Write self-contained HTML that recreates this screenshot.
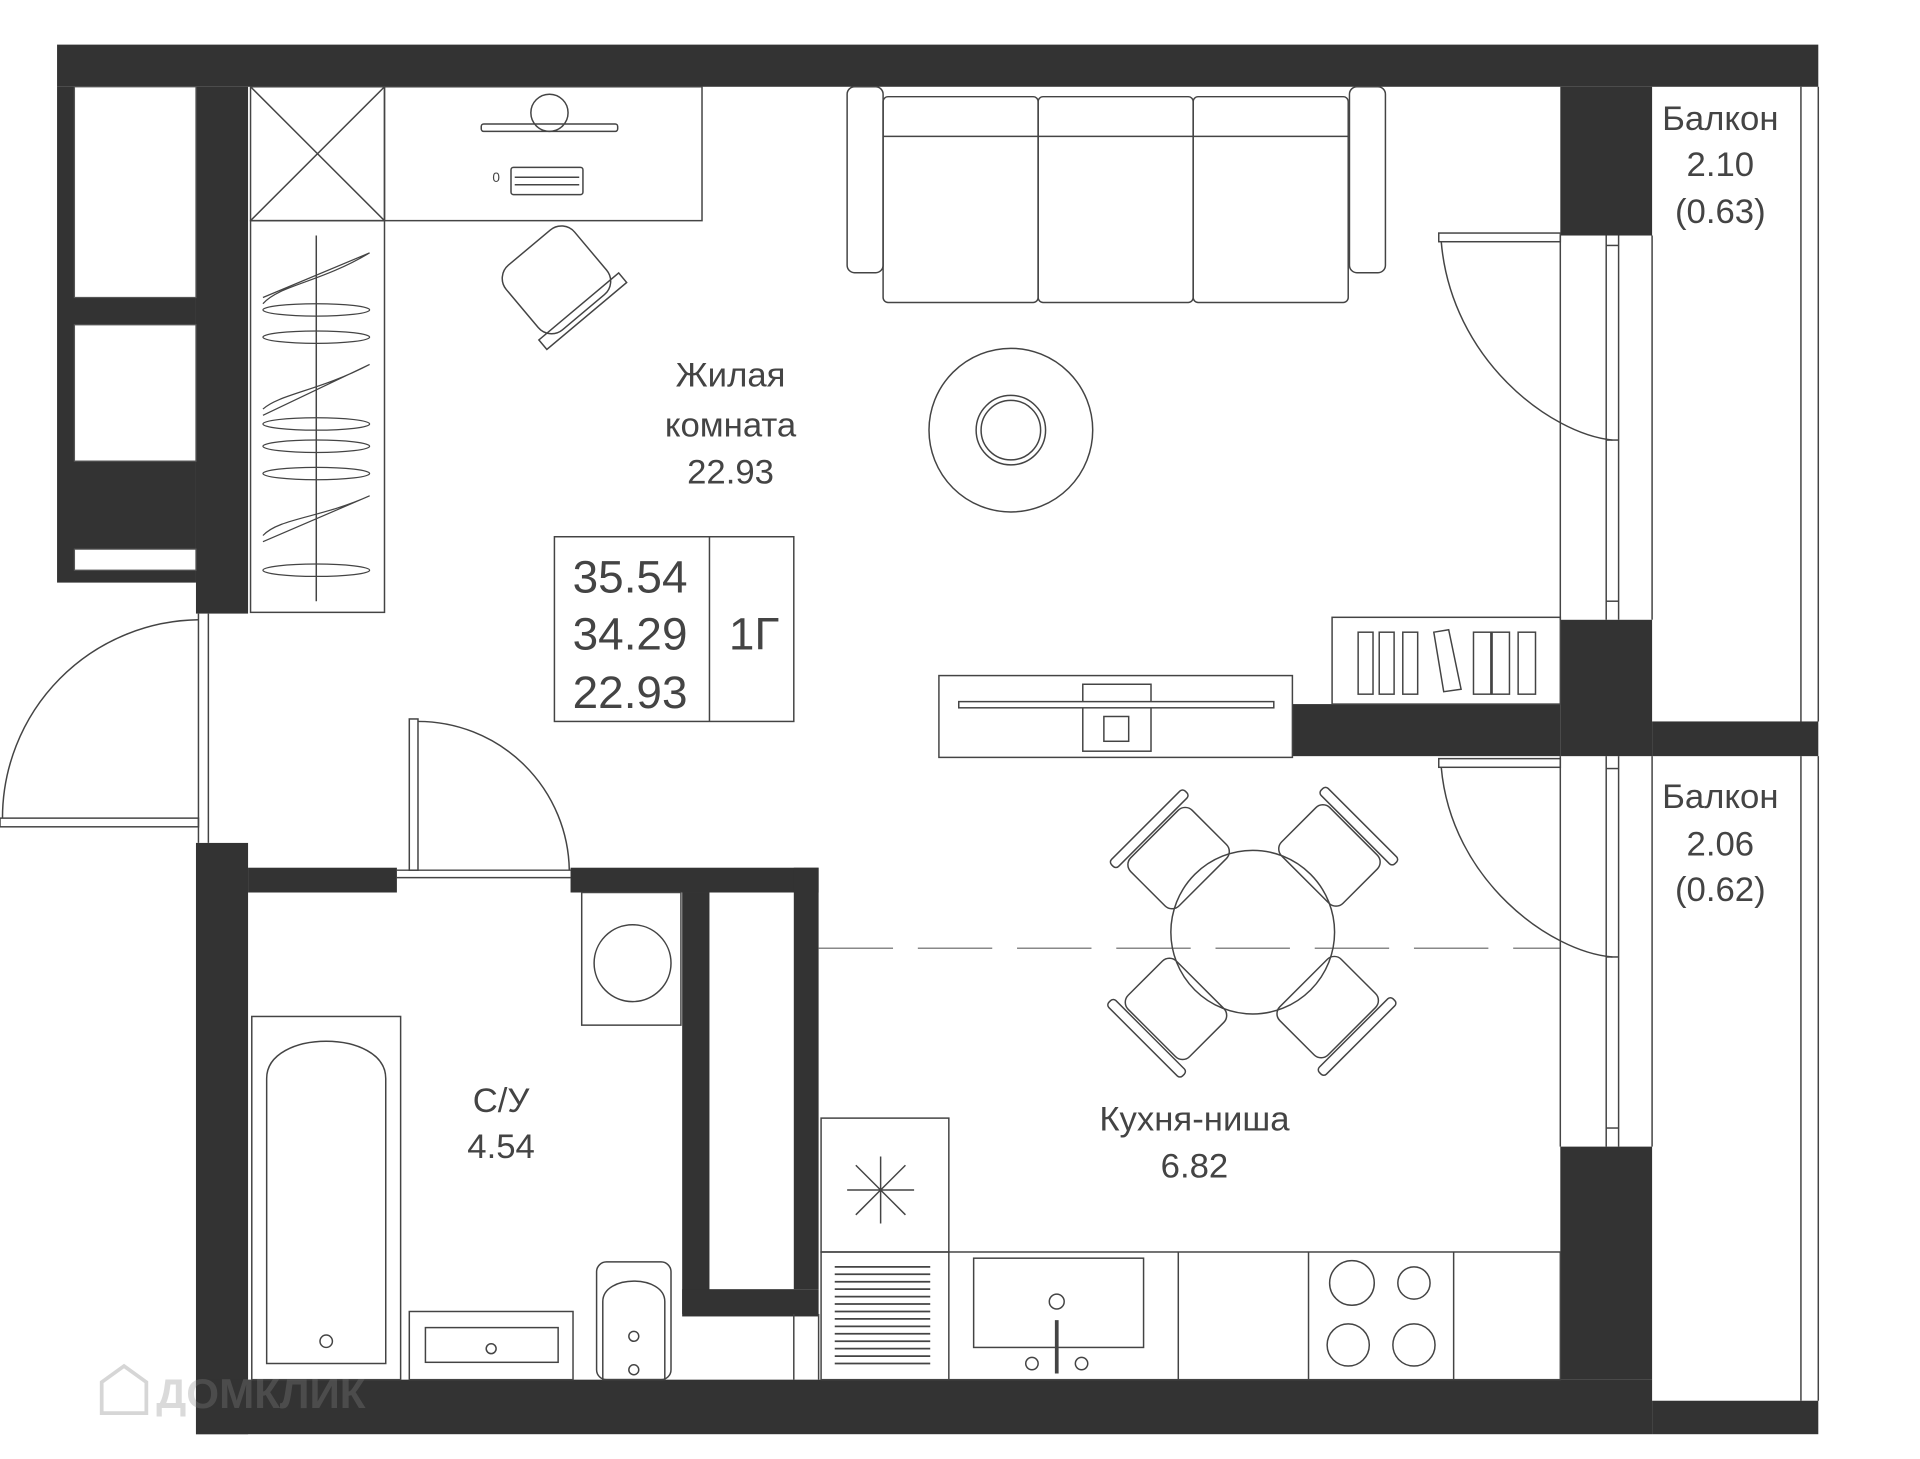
<!DOCTYPE html>
<html><head><meta charset="utf-8"><style>
html,body{margin:0;padding:0;background:#fff;}
svg{display:block}
text{font-family:"Liberation Sans",sans-serif;fill:#444}
</style></head><body>
<svg width="1920" height="1459" viewBox="0 0 1548 1177" preserveAspectRatio="none" xmlns="http://www.w3.org/2000/svg">
<g fill="#333">
<rect x="46" y="36" width="1420" height="34"/>
<rect x="46" y="70" width="112" height="400"/>
<rect x="158" y="70" width="42" height="425"/>
<rect x="158" y="680" width="42" height="477"/>
<rect x="158" y="1113" width="1174" height="44"/>
<rect x="1332" y="1130" width="134" height="27"/>
<rect x="200" y="700" width="120" height="20"/>
<rect x="460" y="700" width="200" height="20"/>
<rect x="640" y="700" width="20" height="340"/>
<rect x="550" y="720" width="22" height="340"/>
<rect x="550" y="1040" width="110" height="22"/>
<rect x="1258" y="70" width="74" height="120"/>
<rect x="1258" y="500" width="74" height="110"/>
<rect x="1042" y="568" width="216" height="42"/>
<rect x="1332" y="582" width="134" height="28"/>
<rect x="1258" y="925" width="74" height="188"/>
</g>
<g fill="#fff" stroke="#555" stroke-width="1">
<rect x="60" y="70" width="98" height="170"/>
<rect x="60" y="262" width="98" height="110"/>
<rect x="60" y="443" width="98" height="17"/>
</g>
<g fill="none" stroke="#444" stroke-width="1.2">
<line x1="160" y1="495" x2="160" y2="680"/><line x1="168" y1="495" x2="168" y2="680"/>
<rect x="0" y="660" width="160" height="7"/>
<path d="M160,500 A160,160 0 0 0 2,660"/>
<line x1="320" y1="702" x2="460" y2="702"/><line x1="320" y1="708" x2="460" y2="708"/>
<rect x="330" y="580" width="7" height="122"/>
<path d="M337,582 A122,122 0 0 1 459,702"/>
<line x1="640" y1="1060" x2="640" y2="1113"/><line x1="660" y1="1060" x2="660" y2="1113"/>
<line x1="660" y1="765" x2="1258" y2="765" stroke-dasharray="60,20" stroke="#888"/>
<line x1="1258" y1="190" x2="1258" y2="500"/><line x1="1295" y1="190" x2="1295" y2="500"/><line x1="1305" y1="190" x2="1305" y2="500"/><line x1="1332" y1="190" x2="1332" y2="500"/>
<line x1="1295" y1="355" x2="1305" y2="355"/><line x1="1295" y1="485" x2="1305" y2="485"/><line x1="1295" y1="198" x2="1305" y2="198"/>
<line x1="1258" y1="610" x2="1258" y2="925"/><line x1="1295" y1="610" x2="1295" y2="925"/><line x1="1305" y1="610" x2="1305" y2="925"/><line x1="1332" y1="610" x2="1332" y2="925"/>
<line x1="1295" y1="772" x2="1305" y2="772"/><line x1="1295" y1="910" x2="1305" y2="910"/><line x1="1295" y1="620" x2="1305" y2="620"/>
<rect x="1160" y="188" width="98" height="7"/>
<path d="M1162,195 C1170,290 1250,350 1300,355"/>
<rect x="1160" y="612" width="98" height="7"/>
<path d="M1162,619 C1170,710 1250,768 1300,772"/>
<line x1="1452" y1="70" x2="1452" y2="582"/><line x1="1466" y1="70" x2="1466" y2="582"/>
<line x1="1452" y1="610" x2="1452" y2="1130"/><line x1="1466" y1="610" x2="1466" y2="1130"/>
<rect x="202" y="70" width="108" height="108"/>
<line x1="202" y1="70" x2="310" y2="178"/><line x1="310" y1="70" x2="202" y2="178"/>
<rect x="310" y="70" width="256" height="108"/>
<rect x="202" y="178" width="108" height="316"/>
<line x1="255" y1="190" x2="255" y2="485"/>
<g stroke-width="1">
<path d="M212,240 L298,204 M212,245 C225,230 258,228 298,204"/>
<ellipse cx="255" cy="250" rx="43" ry="5"/><ellipse cx="255" cy="272" rx="43" ry="5"/>
<path d="M212,330 C225,318 258,315 298,294 M212,335 L298,294"/>
<ellipse cx="255" cy="342" rx="43" ry="5"/><ellipse cx="255" cy="360" rx="43" ry="5"/><ellipse cx="255" cy="382" rx="43" ry="5"/>
<path d="M212,432 C225,418 258,418 298,400 M212,437 L298,400"/>
<ellipse cx="255" cy="460" rx="43" ry="5"/>
</g>
<circle cx="443" cy="91" r="15"/>
<rect x="388" y="100" width="110" height="6" rx="2"/>
<rect x="412" y="135" width="58" height="22" rx="2"/>
<line x1="415" y1="143" x2="467" y2="143"/><line x1="415" y1="149" x2="467" y2="149"/>
<g transform="rotate(-40 448 225)">
<rect x="412" y="192" width="72" height="68" rx="14"/>
<rect x="406" y="254" width="84" height="10"/>
</g>
<rect x="683" y="70" width="29" height="150" rx="6"/>
<rect x="1088" y="70" width="29" height="150" rx="6"/>
<rect x="712" y="78" width="125" height="166" rx="4"/>
<rect x="837" y="78" width="125" height="166" rx="4"/>
<rect x="962" y="78" width="125" height="166" rx="4"/>
<line x1="712" y1="110" x2="1087" y2="110"/>
<circle cx="815" cy="347" r="66"/><circle cx="815" cy="347" r="28"/><circle cx="815" cy="347" r="24"/>
<rect x="447" y="433" width="193" height="149"/><line x1="572" y1="433" x2="572" y2="582"/>
<rect x="757" y="545" width="285" height="66"/>
<rect x="873" y="552" width="55" height="54"/>
<rect x="773" y="566" width="254" height="5" fill="#fff"/>
<rect x="890" y="578" width="20" height="20"/>
<rect x="1074" y="498" width="184" height="70"/>
<rect x="1095" y="510" width="12" height="50"/><rect x="1112" y="510" width="12" height="50"/><rect x="1131" y="510" width="12" height="50"/>
<path d="M1156,510 L1168,508 L1178,556 L1164,558 Z"/>
<rect x="1188" y="510" width="14" height="50"/><rect x="1203" y="510" width="14" height="50"/><rect x="1224" y="510" width="14" height="50"/>
<circle cx="1010" cy="752" r="66"/>
<g transform="rotate(-45 1010 752)">
<rect x="975" y="640" width="70" height="55" rx="8"/><rect x="968" y="630" width="84" height="8" rx="3"/>
<rect x="975" y="810" width="70" height="55" rx="8"/><rect x="968" y="867" width="84" height="8" rx="3"/>
<rect x="895" y="717" width="55" height="70" rx="8"/><rect x="885" y="710" width="8" height="84" rx="3"/>
<rect x="1070" y="717" width="55" height="70" rx="8"/><rect x="1127" y="710" width="8" height="84" rx="3"/>
</g>
<rect x="662" y="902" width="103" height="108"/>
<path d="M690,940 L730,980 M730,940 L690,980 M710,933 L710,987 M683,960 L737,960"/>
<rect x="662" y="1010" width="596" height="103"/>
<line x1="765" y1="1010" x2="765" y2="1113"/><line x1="950" y1="1010" x2="950" y2="1113"/><line x1="1055" y1="1010" x2="1055" y2="1113"/><line x1="1172" y1="1010" x2="1172" y2="1113"/>
<g stroke-width="1.4"><path d="M673,1022 H750 M673,1028 H750 M673,1034 H750 M673,1040 H750 M673,1046 H750 M673,1052 H750 M673,1058 H750 M673,1064 H750 M673,1070 H750 M673,1076 H750 M673,1082 H750 M673,1088 H750 M673,1094 H750 M673,1100 H750"/></g>
<rect x="785" y="1015" width="137" height="72"/>
<circle cx="852" cy="1050" r="6"/><line x1="852" y1="1065" x2="852" y2="1108" stroke-width="3"/>
<circle cx="832" cy="1100" r="5"/><circle cx="872" cy="1100" r="5"/>
<circle cx="1090" cy="1035" r="18"/><circle cx="1140" cy="1035" r="13"/><circle cx="1087" cy="1085" r="17"/><circle cx="1140" cy="1085" r="17"/>
<rect x="469" y="720" width="80" height="107"/><circle cx="510" cy="777" r="31"/>
<rect x="203" y="820" width="120" height="293"/>
<path d="M215,1100 L215,870 C215,830 311,830 311,870 L311,1100 Z"/>
<circle cx="263" cy="1082" r="5"/>
<rect x="330" y="1058" width="132" height="55"/><rect x="343" y="1071" width="107" height="28"/>
<circle cx="396" cy="1088" r="4"/>
<rect x="481" y="1018" width="60" height="95" rx="8"/>
<path d="M486,1050 C486,1028 536,1028 536,1050 L536,1113 L486,1113 Z"/>
<circle cx="511" cy="1078" r="4"/><circle cx="511" cy="1105" r="4"/>
</g>
<text x="400" y="147" font-size="11" text-anchor="middle">0</text>
<g font-size="28" text-anchor="middle">
<text x="589" y="312">Жилая</text>
<text x="589" y="352">комната</text>
<text x="589" y="390">22.93</text>
<text x="963" y="912">Кухня-ниша</text>
<text x="963" y="950">6.82</text>
<text x="404" y="897">С/У</text>
<text x="404" y="934">4.54</text>
<text x="1387" y="105">Балкон</text>
<text x="1387" y="142">2.10</text>
<text x="1387" y="180">(0.63)</text>
<text x="1387" y="652">Балкон</text>
<text x="1387" y="690">2.06</text>
<text x="1387" y="727">(0.62)</text>
</g>
<g font-size="37" text-anchor="middle">
<text x="508" y="478">35.54</text>
<text x="508" y="524">34.29</text>
<text x="508" y="571">22.93</text>
<text x="608" y="524">1Г</text>
</g>
<path d="M82,1140 L82,1115 L100,1102 L118,1115 L118,1140 Z" fill="none" stroke="#999" stroke-width="3" opacity="0.4"/>
<text x="126" y="1136" font-size="34" font-weight="bold" style="fill:#888;opacity:0.3">ДОМКЛИК</text>
</svg>
</body></html>
